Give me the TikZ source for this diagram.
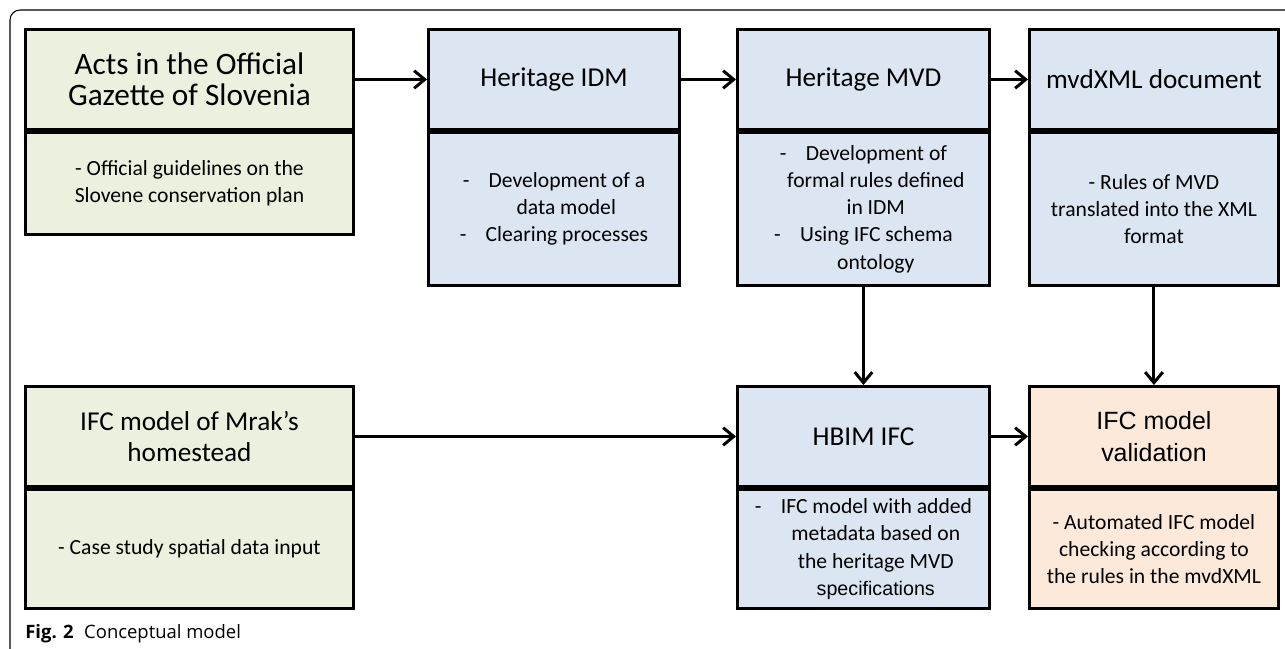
\documentclass[tikz,border=0pt]{standalone}
\usepackage{fontspec}
\setmainfont{Carlito}
\newfontfamily\arialfont{Liberation Sans}
\newfontfamily\capfont{Open Sans}
\usetikzlibrary{positioning,arrows.meta}
\definecolor{boxgreen}{HTML}{EBF1DE}
\definecolor{boxblue}{HTML}{DCE6F2}
\definecolor{boxorange}{HTML}{FDE9D9}
\tikzset{
  head/.style={draw, line width=1.7pt, anchor=north west, align=center, inner sep=2pt,
    minimum height=2cm, font=\fontsize{15.5}{17.6}\selectfont},
  note/.style={draw, line width=1.7pt, below=0pt of #1, align=center, inner sep=2pt,
    font=\fontsize{12.3}{15.5}\selectfont},
  flow/.style={line width=1.7pt, -{Straight Barb[length=6pt,width=10pt]}}
}
\newcommand{\dashitem}{-\hspace{11pt}}
\newcommand{\contline}{\hspace*{14pt}}
\begin{document}
\begin{tikzpicture}[x=0.02cm,y=-0.02cm]
  \useasboundingbox (0,0) rectangle (1285,649);
  \draw[line width=0.6pt, rounded corners=0.2cm] (1300,10) -- (10,10) -- (10,659) -- (40,659);

  \node[head, fill=boxgreen, minimum width=6.56cm, font=\fontsize{17.8}{17.8}\selectfont] (acts) at (24,28) {Acts in the Official\\Gazette of Slovenia};
  \node[note=acts, fill=boxgreen, minimum width=6.56cm, minimum height=2.04cm] (actsnote) {- Official guidelines on the\\Slovene conservation plan};

  \node[head, fill=boxblue, minimum width=5.02cm] (idm) at (427,28) {Heritage IDM};
  \node[note=idm, fill=boxblue, minimum width=5.02cm, minimum height=3.06cm] (idmnote)
    {\dashitem Development of a\\\contline data model\\\dashitem Clearing processes};

  \node[head, fill=boxblue, minimum width=5.04cm] (mvd) at (736,28) {Heritage MVD};
  \node[note=mvd, fill=boxblue, minimum width=5.04cm, minimum height=3.06cm] (mvdnote)
    {\dashitem Development of\\\contline formal rules defined\\\contline in IDM\\\dashitem Using IFC schema\\\contline ontology};

  \node[head, fill=boxblue, minimum width=4.98cm] (xml) at (1028,28) {mvdXML document};
  \node[note=xml, fill=boxblue, minimum width=4.98cm, minimum height=3.06cm] (xmlnote)
    {- Rules of MVD\\translated into the XML\\format};

  \node[head, fill=boxgreen, minimum width=6.56cm] (mrak) at (24,385) {IFC model of Mrak’s\\homestead};
  \node[note=mrak, fill=boxgreen, minimum width=6.56cm, minimum height=2.38cm] (mraknote) {- Case study spatial data input};

  \node[head, fill=boxblue, minimum width=5.04cm] (hbim) at (736,385) {HBIM IFC};
  \node[note=hbim, fill=boxblue, minimum width=5.04cm, minimum height=2.38cm] (hbimnote)
    {\dashitem IFC model with added\\\contline metadata based on\\\contline the heritage MVD\\\contline{\arialfont\fontsize{11.2}{15.5}\selectfont specifications}};

  \node[head, fill=boxorange, minimum width=4.98cm, font=\arialfont\fontsize{14.2}{18}\selectfont] (valid) at (1028,385) {IFC model\\validation};
  \node[note=valid, fill=boxorange, minimum width=4.98cm, minimum height=2.38cm] (validnote)
    {- Automated IFC model\\checking according to\\the rules in the mvdXML};

  \draw[flow] (acts) -- (idm);
  \draw[flow] (idm) -- (mvd);
  \draw[flow] (mvd) -- (xml);
  \draw[flow] (mvdnote.south) -- (hbim.north);
  \draw[flow] (xmlnote.south) -- (valid.north);
  \draw[flow] (mrak) -- (hbim);
  \draw[flow] (hbim) -- (valid);

  \node[anchor=base west, inner sep=0pt, font=\capfont\fontsize{10.5}{12}\selectfont] (caption) at (25,638)
    {\textbf{Fig. 2}\hspace{6pt}Conceptual model};
\end{tikzpicture}
\end{document}
